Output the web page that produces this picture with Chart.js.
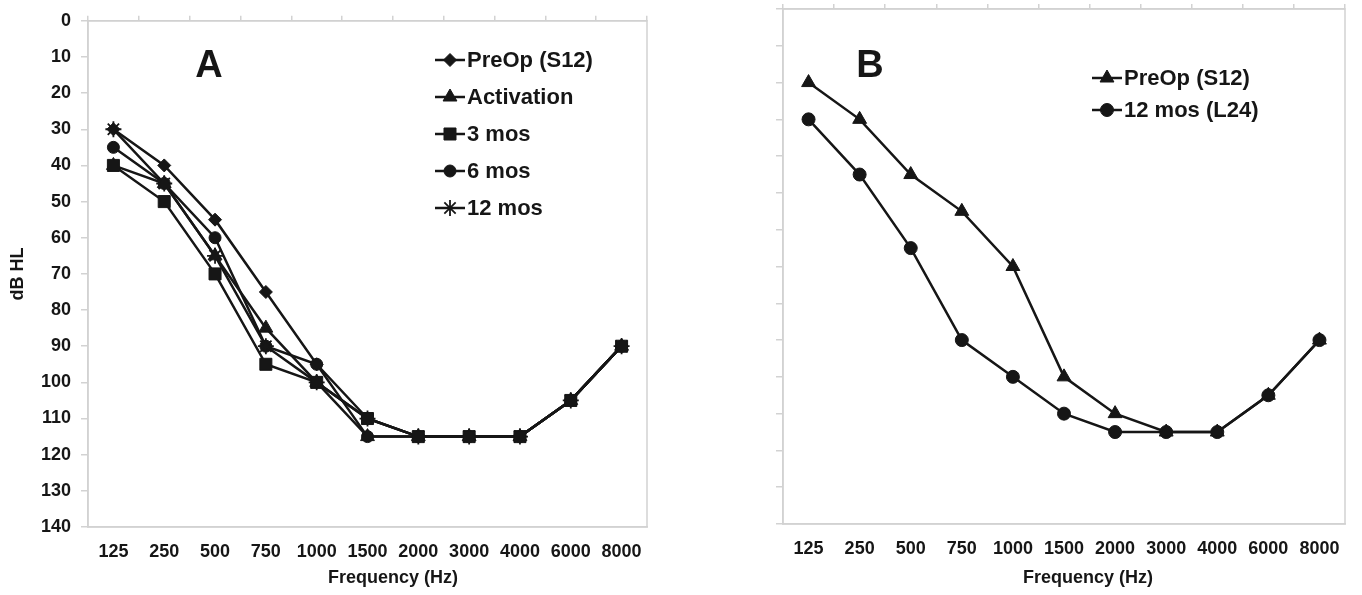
<!DOCTYPE html>
<html>
<head>
<meta charset="utf-8">
<script src="https://cdn.jsdelivr.net/npm/chart.js@4.4.1/dist/chart.umd.min.js"></script>
<style>
body { margin: 0; background: #fff; width: 1362px; height: 595px; overflow: hidden; position: relative; }
.box { position: absolute; top: 0; height: 595px; }
#boxA { left: 0; width: 680px; }
#boxB { left: 680px; width: 682px; }
</style>
</head>
<body>
<div class="box" id="boxA"><canvas id="chartA"></canvas></div>
<div class="box" id="boxB"><canvas id="chartB"></canvas></div>
<script>
// frequencies (Hz) on the x axis
const freqs = ['125', '250', '500', '750', '1000', '1500', '2000', '3000', '4000', '6000', '8000'];

// panel A thresholds (dB HL)
const aPreOp      = [30, 40, 55, 75, 95, 110, 115, 115, 115, 105, 90];
const aActivation = [40, 45, 65, 85, 100, 115, 115, 115, 115, 105, 90];
const a3mos       = [40, 50, 70, 95, 100, 110, 115, 115, 115, 105, 90];
const a6mos       = [35, 45, 60, 90, 95, 115, 115, 115, 115, 105, 90];
const a12mos      = [30, 45, 65, 90, 100, 110, 115, 115, 115, 105, 90];

// panel B thresholds (dB HL)
const bPreOp  = [20, 30, 45, 55, 70, 100, 110, 115, 115, 105, 90];
const b12mos  = [30, 45, 65, 90, 100, 110, 115, 115, 115, 105, 90];

const ink = '#161616';
const frame = '#d2d2d2';
const fontFamily = '"Liberation Sans", Arial, sans-serif';

// frame, panel letter, inner legend and x title
const panelPlugin = {
    id: 'panel',
    beforeDatasetsDraw(chart) {
        const { ctx, chartArea: a } = chart;
        ctx.save();
        ctx.strokeStyle = frame;
        ctx.lineWidth = 1.5;
        ctx.strokeRect(a.left, a.top, a.width, a.height);
        ctx.restore();
    },
    afterDatasetsDraw(chart, args, opts) {
        const ctx = chart.ctx;
        ctx.save();
        ctx.fillStyle = ink;
        ctx.strokeStyle = ink;

        ctx.font = 'bold 38px ' + fontFamily;
        ctx.textAlign = 'center';
        ctx.textBaseline = 'middle';
        ctx.fillText(opts.letter, opts.letterX, opts.letterY);

        ctx.font = 'bold 18px ' + fontFamily;
        ctx.fillText(opts.xTitle, opts.xTitleX, opts.xTitleY);

        ctx.font = 'bold 22px ' + fontFamily;
        ctx.textAlign = 'left';
        chart.data.datasets.forEach((ds, i) => {
            const x = opts.legendX;
            const y = opts.legendY + i * opts.legendGap;
            ctx.lineWidth = 2.5;
            ctx.beginPath();
            ctx.moveTo(x, y);
            ctx.lineTo(x + 30, y);
            ctx.stroke();
            ctx.lineWidth = ds.pointBorderWidth;
            Chart.helpers.drawPoint(ctx, {
                pointStyle: ds.pointStyle,
                radius: ds.pointRadius,
                borderWidth: ds.pointBorderWidth,
                rotation: 0
            }, x + 15, y);
            ctx.fillText(ds.label, x + 32, y + 1);
        });
        ctx.restore();
    }
};

function series(label, data, style, radius, order) {
    return {
        label: label,
        data: data,
        borderColor: ink,
        borderWidth: 2.5,
        backgroundColor: ink,
        pointStyle: style,
        pointRadius: radius,
        pointHoverRadius: radius,
        pointBackgroundColor: ink,
        pointBorderColor: ink,
        pointBorderWidth: style === 'star' ? 1.8 : 1,
        tension: 0,
        fill: false,
        order: order
    };
}

function makeOptions(p) {
    return {
        responsive: true,
        maintainAspectRatio: false,
        animation: false,
        layout: { padding: { left: 0, right: p.padRight, top: 0, bottom: 0 } },
        plugins: {
            legend: { display: false },
            tooltip: { enabled: false },
            panel: p.panel
        },
        scales: {
            x: {
                type: 'category',
                position: 'bottom',
                offset: true,
                grid: { display: false, drawTicks: false },
                border: { display: true, color: frame, width: 1.5 },
                ticks: {
                    color: ink,
                    padding: 14,
                    autoSkip: false,
                    maxRotation: 0,
                    font: { family: fontFamily, size: 18, weight: 'bold' }
                },
                afterFit: s => { s.height = p.bottomH; }
            },
            xTop: {
                type: 'category',
                position: 'top',
                labels: freqs,
                offset: true,
                grid: { offset: true, drawOnChartArea: false, drawTicks: true, tickLength: 5, color: frame, lineWidth: 1.5 },
                border: { display: true, color: frame, width: 1.5 },
                ticks: { display: false },
                afterFit: s => { s.height = p.topH; }
            },
            y: {
                type: 'linear',
                position: 'left',
                reverse: true,
                min: 0,
                max: 140,
                grid: { drawOnChartArea: false, drawTicks: true, tickLength: 7, color: frame, lineWidth: 1.5 },
                border: { display: true, color: frame, width: 1.5 },
                ticks: {
                    display: p.yLabels,
                    stepSize: 10,
                    color: ink,
                    padding: 10,
                    font: { family: fontFamily, size: 18, weight: 'bold' }
                },
                title: {
                    display: p.yLabels,
                    text: 'dB HL',
                    color: ink,
                    padding: { top: 7, bottom: 0 },
                    font: { family: fontFamily, size: 18, weight: 'bold' }
                },
                afterFit: s => { s.width = p.leftW; }
            }
        }
    };
}

new Chart(document.querySelector('#chartA'), {
    type: 'line',
    data: {
        labels: freqs,
        datasets: [
            series('PreOp (S12)', aPreOp, 'rectRot', 6.5, 4),
            series('Activation', aActivation, 'triangle', 8, 1),
            series('3 mos', a3mos, 'rect', 8.5, 0),
            series('6 mos', a6mos, 'circle', 6, 3),
            series('12 mos', a12mos, 'star', 8, 2)
        ]
    },
    plugins: [panelPlugin],
    options: makeOptions({
        padRight: 33, leftW: 88, topH: 15, bottomH: 68, yLabels: true,
        panel: {
            letter: 'A', letterX: 209, letterY: 67,
            xTitle: 'Frequency (Hz)', xTitleX: 393, xTitleY: 578,
            legendX: 435, legendY: 60, legendGap: 37
        }
    })
});

new Chart(document.querySelector('#chartB'), {
    type: 'line',
    data: {
        labels: freqs,
        datasets: [
            series('PreOp (S12)', bPreOp, 'triangle', 8, 0),
            series('12 mos (L24)', b12mos, 'circle', 6.5, 1)
        ]
    },
    plugins: [panelPlugin],
    options: makeOptions({
        padRight: 17, leftW: 103, topH: 9, bottomH: 71, yLabels: false,
        panel: {
            letter: 'B', letterX: 190, letterY: 67,
            xTitle: 'Frequency (Hz)', xTitleX: 408, xTitleY: 578,
            legendX: 412, legendY: 78, legendGap: 32
        }
    })
});
</script>
</body>
</html>
